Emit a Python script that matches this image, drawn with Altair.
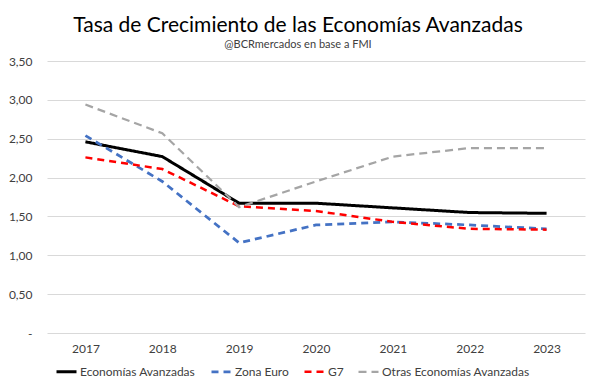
import altair as alt
import pandas as pd

years = ["2017", "2018", "2019", "2020", "2021", "2022", "2023"]
avanzadas = [2.46, 2.27, 1.67, 1.67, 1.61, 1.55, 1.54]
zona_euro = [2.54, 1.95, 1.16, 1.39, 1.43, 1.39, 1.34]
g7 = [2.26, 2.11, 1.63, 1.57, 1.43, 1.34, 1.33]
otras = [2.94, 2.57, 1.62, 1.95, 2.27, 2.38, 2.38]

series_names = ["Economías Avanzadas", "Zona Euro", "G7", "Otras Economías Avanzadas"]
series_values = [avanzadas, zona_euro, g7, otras]
colors = ["#000000", "#4472C4", "#FF0000", "#A5A5A5"]
dashes = [[1, 0], [7, 5], [7, 5], [8, 5]]
widths = [3.0, 2.25, 2.25, 2.25]
y_ticks = [0, 0.5, 1.0, 1.5, 2.0, 2.5, 3.0, 3.5]

rows = []
for name, vals in zip(series_names, series_values):
    for yr, v in zip(years, vals):
        rows.append({"Año": yr, "Serie": name, "Valor": v})
df = pd.DataFrame(rows)

FONT = "Lato"

legend = alt.Legend(
    title=None,
    orient="none",
    legendX=8,
    legendY=299,
    direction="horizontal",
    symbolType="stroke",
    symbolSize=400,
    labelFont=FONT,
    labelFontSize=12,
    labelColor="#404040",
    columnPadding=10,
    labelOffset=2,
)

chart = (
    alt.Chart(df)
    .mark_line()
    .encode(
        x=alt.X(
            "Año:O",
            sort=years,
            axis=alt.Axis(
                title=None,
                labelAngle=0,
                domain=False,
                ticks=False,
                grid=False,
                labelPadding=10,
                labelFont=FONT,
                labelFontSize=12,
                labelColor="#404040",
            ),
        ),
        y=alt.Y(
            "Valor:Q",
            scale=alt.Scale(domain=[0, 3.5]),
            axis=alt.Axis(
                title=None,
                values=y_ticks,
                labelExpr="datum.value == 0 ? '-\u00a0\u00a0\u00a0' : replace(format(datum.value, '.2f'), '.', ',')",
                domain=False,
                ticks=False,
                grid=True,
                gridColor="#D9D9D9",
                gridWidth=1,
                labelPadding=15,
                labelFont=FONT,
                labelFontSize=12,
                labelColor="#404040",
            ),
        ),
        color=alt.Color(
            "Serie:N",
            sort=series_names,
            scale=alt.Scale(domain=series_names, range=colors),
            legend=legend,
        ),
        strokeDash=alt.StrokeDash(
            "Serie:N",
            sort=series_names,
            scale=alt.Scale(domain=series_names, range=dashes),
            legend=legend,
        ),
        strokeWidth=alt.StrokeWidth(
            "Serie:N",
            sort=series_names,
            scale=alt.Scale(domain=series_names, range=widths),
            legend=legend,
        ),
    )
    .properties(
        width=538,
        height=272,
        autosize=alt.AutoSizeParams(type="none"),
        padding={"left": 39, "top": 53, "right": 2, "bottom": 50},
        background="white",
        title=alt.TitleParams(
            text="Tasa de Crecimiento de las Economías Avanzadas",
            subtitle="@BCRmercados en base a FMI",
            font=FONT,
            fontSize=21,
            fontWeight="normal",
            color="#000000",
            subtitleFont=FONT,
            subtitleFontSize=11,
            subtitleColor="#404040",
            subtitlePadding=3,
            anchor="middle",
            offset=5,
            dx=-18,
        ),
    )
    .configure_view(stroke=None)
)

chart.save("out.html", embed_options={"renderer": "svg", "actions": False})
